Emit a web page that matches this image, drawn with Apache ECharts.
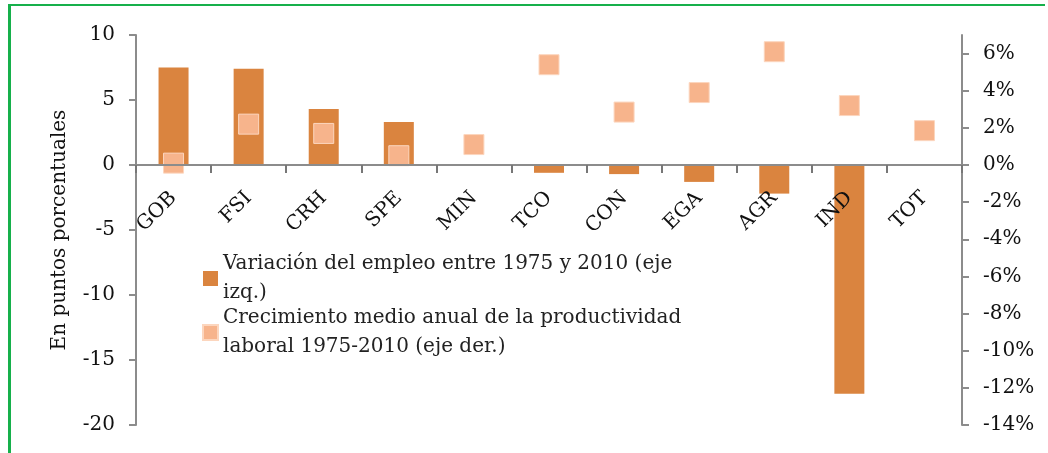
<!DOCTYPE html>
<html>
<head>
<meta charset="utf-8">
<script src="https://cdn.jsdelivr.net/npm/echarts@6/dist/echarts.min.js"></script>
<style>
  html, body { margin: 0; padding: 0; background: #fff; }
  #frame { position: absolute; left: 8px; top: 4px; width: 1034px; height: 460px;
           border-top: 2px solid #16B04B; border-left: 3px solid #16B04B; }
  #main { position: absolute; left: 0; top: 0; width: 1048px; height: 453px; }
</style>
</head>
<body>
<div id="frame"></div>
<div id="main"></div>
<script>
// sectores
var sectores = ['GOB', 'FSI', 'CRH', 'SPE', 'MIN', 'TCO', 'CON', 'EGA', 'AGR', 'IND', 'TOT']
// variacion del empleo, puntos porcentuales (eje izq.)
var empleo = [7.5, 7.4, 4.3, 3.3, 0, -0.6, -0.7, -1.3, -2.2, -17.6, 0]
// crecimiento medio anual de la productividad, % (eje der.)
var productividad = [0.1, 2.2, 1.7, 0.5, 1.1, 5.4, 2.85, 3.9, 6.1, 3.2, 1.85]
// marcas del eje derecho
var ticksDer = [-14, -12, -10, -8, -6, -4, -2, 0, 2, 4, 6]

var nombreEmpleo = 'Variación del empleo entre 1975 y 2010 (eje izq.)'
var nombreProd = 'Crecimiento medio anual de la productividad laboral 1975-2010 (eje der.)'
var etiquetas = {}
etiquetas[nombreEmpleo] = 'Variación del empleo entre 1975 y 2010 (eje\nizq.)'
etiquetas[nombreProd] = 'Crecimiento medio anual de la productividad\nlaboral 1975-2010 (eje der.)'

var fuente = 'DejaVu Serif'
var gris = '#8C8C8C'

var myChart = echarts.init(document.getElementById('main'))
var option = {
  animation: false,
  textStyle: { fontFamily: fuente },
  grid: { left: 136, right: 86, top: 35, bottom: 28, outerBoundsMode: 'none' },
  legend: {
    orient: 'vertical',
    left: 197,
    top: 230,
    itemWidth: 15,
    itemHeight: 15,
    itemGap: -33,
    textStyle: { fontFamily: fuente, fontSize: 20, color: '#222', lineHeight: 29, padding: [29, 0, 0, 0] },
    formatter: function (name) { return etiquetas[name] },
    data: [
      { name: nombreEmpleo, icon: 'rect' },
      { name: nombreProd, icon: 'rect' }
    ]
  },
  xAxis: {
    type: 'category',
    data: sectores,
    z: 5,
    // eje en el cero del eje izquierdo (10 de 30 unidades desde arriba)
    offset: -260,
    axisLine: { onZero: false, lineStyle: { color: gris, width: 2 } },
    axisTick: { show: true, interval: 0, length: 8, lineStyle: { color: '#777', width: 2 } },
    axisLabel: { rotate: 45, margin: 30, fontSize: 20, color: '#111', fontFamily: fuente }
  },
  yAxis: [
    {
      type: 'value',
      min: -20,
      max: 10,
      interval: 5,
      name: 'En puntos porcentuales',
      nameLocation: 'middle',
      nameGap: 66,
      nameTextStyle: { fontSize: 20, color: '#111', fontFamily: fuente },
      splitLine: { show: false },
      axisLine: { show: true, lineStyle: { color: gris, width: 2 } },
      axisTick: { show: true, length: 7, lineStyle: { color: gris, width: 2 } },
      axisLabel: { fontSize: 20, color: '#111', margin: 21, fontFamily: fuente }
    },
    {
      type: 'value',
      min: -14,
      max: 7,
      position: 'right',
      splitLine: { show: false },
      axisLine: { show: true, lineStyle: { color: gris, width: 2 } },
      axisTick: { show: true, length: 7, customValues: ticksDer, lineStyle: { color: gris, width: 2 } },
      axisLabel: {
        fontSize: 20, color: '#111', margin: 21, fontFamily: fuente,
        customValues: ticksDer,
        formatter: function (v) { return v + '%' }
      }
    }
  ],
  series: [
    {
      name: nombreEmpleo,
      type: 'bar',
      yAxisIndex: 0,
      barWidth: 30,
      itemStyle: { color: '#DA843F' },
      data: empleo
    },
    {
      name: nombreProd,
      type: 'scatter',
      yAxisIndex: 1,
      symbol: 'rect',
      symbolSize: 20,
      itemStyle: { color: '#F7B48C', borderColor: '#FCD6BE', borderWidth: 1, opacity: 1 },
      data: productividad
    }
  ]
}
myChart.setOption(option)
</script>
</body>
</html>
